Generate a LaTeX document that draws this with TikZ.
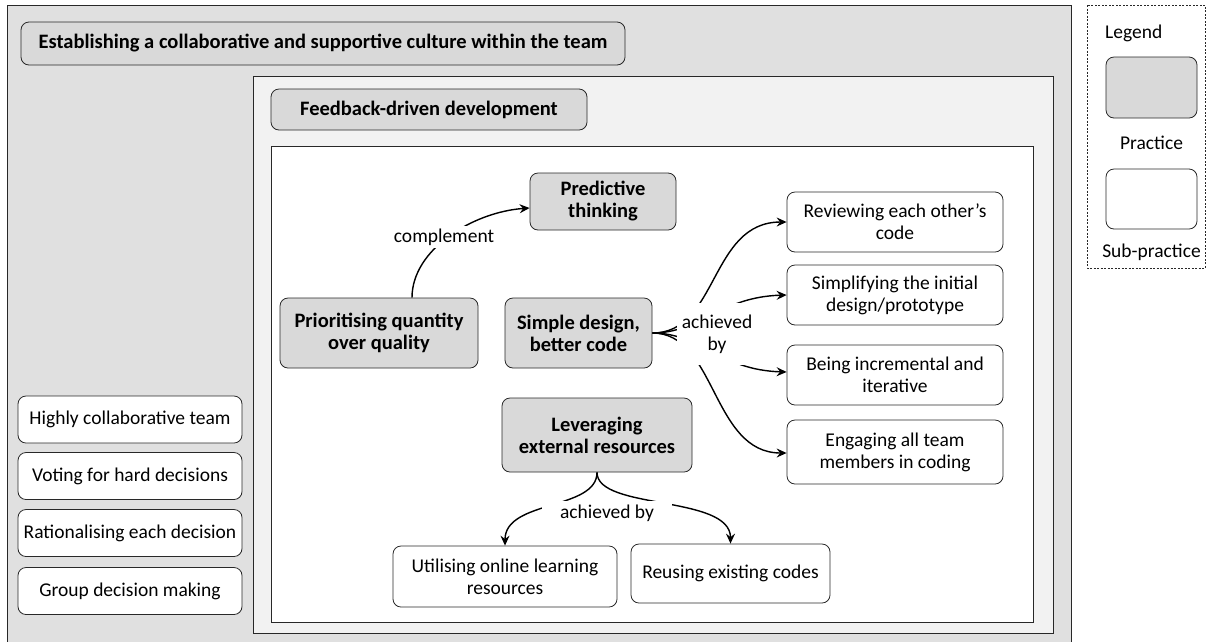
\documentclass[tikz,border=0pt]{standalone}
\usepackage{fontspec}
\setmainfont{Carlito}
\usetikzlibrary{arrows.meta}
\definecolor{outerg}{RGB}{224,224,224}
\definecolor{fbg}{RGB}{242,242,242}
\definecolor{pg}{RGB}{217,217,217}
\definecolor{edge}{RGB}{40,40,40}
\newcommand{\regfont}{\fontsize{19.5}{22}\selectfont}
\newcommand{\boldfont}{\fontsize{20.5}{22}\selectfont\bfseries}
\tikzset{
  base/.style={rounded corners=8pt, draw=edge, line width=0.8pt, align=center, inner sep=0pt, font=\regfont},
  practice/.style={base, fill=pg, font=\boldfont},
  sub/.style={base, fill=white},
  lbl/.style={fill=white, align=center, font=\regfont},
  arr/.style={-{Stealth[length=10pt,width=9pt,inset=3.5pt]}, line width=1.4pt, black},
}
\begin{document}
\begin{tikzpicture}[x=1pt,y=-1pt]
\useasboundingbox (0,0) rectangle (1206,641);
% containers
\draw[edge, line width=0.8pt, fill=outerg] (7,5) rectangle (1071,650);
\draw[edge, line width=0.8pt, fill=fbg] (253,76) rectangle (1053,633);
\draw[edge, line width=0.8pt, fill=white] (271,146) rectangle (1033,622);
\draw[edge, line width=0.6pt, dash pattern=on 2pt off 1.5pt] (1087,5) rectangle (1205,268);

% titles
\node[practice, minimum width=604pt, minimum height=43pt] (est) at (323,43.5) {Establishing a collaborative and supportive culture within the team};
\node[practice, minimum width=316pt, minimum height=41pt] (fdd) at (429,109.5) {Feedback-driven development};

% practices
\node[practice, minimum width=146pt, minimum height=57pt] (pred) at (603,201.5) {Predictive\\thinking};
\node[practice, minimum width=198pt, minimum height=70pt] (prio) at (379,333) {Prioritising quantity\\over quality};
\node[practice, minimum width=147pt, minimum height=70pt] (simple) at (578.5,333) {Simple design,\\better code};
\node[practice, minimum width=190pt, minimum height=74pt] (lev) at (597,435) {Leveraging\\external resources};

% sub-practices
\node[sub, minimum width=216pt, minimum height=60pt] (rev) at (895,222) {Reviewing each other’s\\code};
\node[sub, minimum width=216pt, minimum height=60pt] (simp) at (895,295) {Simplifying the initial\\design/prototype};
\node[sub, minimum width=216pt, minimum height=60pt] (inc) at (895,375) {Being incremental and\\iterative};
\node[sub, minimum width=216pt, minimum height=64pt] (eng) at (895,452) {Engaging all team\\members in coding};
\node[sub, minimum width=224pt, minimum height=61pt] (util) at (505,576.5) {Utilising online learning\\resources};
\node[sub, minimum width=199pt, minimum height=59pt] (reuse) at (730.5,573.5) {Reusing existing codes};

\node[sub, minimum width=224pt, minimum height=47pt] (high) at (130,419.5) {Highly collaborative team};
\node[sub, minimum width=224pt, minimum height=47pt] (vote) at (130,476) {Voting for hard decisions};
\node[sub, minimum width=224pt, minimum height=47pt] (rat) at (130,533) {Rationalising each decision};
\node[sub, minimum width=224pt, minimum height=47pt] (group) at (130,591) {Group decision making};

% connectors
\draw[arr] ([xshift=33pt]prio.north) .. controls +(0,-48) and +(-57,4) .. ([yshift=-6.5pt]pred.west);

\draw[arr] (simple.east) .. controls +(66,0) and +(-77,0) .. (rev.west);
\draw[arr] (simple.east) .. controls +(48,0) and +(-67,2) .. (simp.west);
\draw[arr] (simple.east) .. controls +(48,0) and +(-67,-2) .. ([yshift=3pt]inc.west);
\draw[arr] (simple.east) .. controls +(64,0) and +(-75,0) .. ([yshift=-1pt]eng.west);

\draw[arr] (lev.south) .. controls +(0,38) and +(0,-46) .. (util.north);
\draw[arr] (lev.south) .. controls +(0,38) and +(0,-49) .. (reuse.north);

% connector labels
\node[lbl, inner sep=3pt] (lcomp) at (444,237) {complement};
\node[lbl, inner xsep=5pt, inner ysep=12pt] (lach1) at (717,334) {achieved\\by};
\node[lbl, inner xsep=18pt, inner ysep=4pt] (lach2) at (607,513) {achieved by};

% legend
\node[font=\regfont, anchor=west, inner sep=0pt] (leg) at (1105,33) {Legend};
\node[practice, minimum width=91pt, minimum height=61pt] (lp) at (1151.5,87.5) {};
\node[font=\regfont] (lpt) at (1151.5,143) {Practice};
\node[sub, minimum width=91pt, minimum height=60pt] (ls) at (1151.5,199) {};
\node[font=\regfont] (lst) at (1151.5,252) {Sub-practice};
\end{tikzpicture}
\end{document}
